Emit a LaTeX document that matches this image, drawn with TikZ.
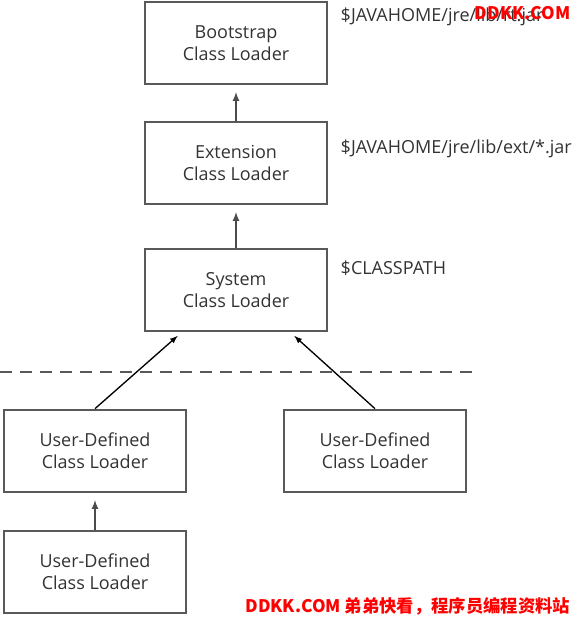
\documentclass[tikz,border=0pt]{standalone}
\usepackage{fontspec}
\setmainfont{Open Sans}
\newfontfamily\cjk{Noto Sans CJK SC}
\tikzset{
  loader/.style={draw=black!65, line width=1.5pt, minimum width=136pt, minimum height=62pt, align=center, text=black!80, font=\fontsize{13.5}{16.5}\selectfont},
  path/.style={anchor=base west, text=black!80, font=\fontsize{13.5}{15}\selectfont},
  mark red/.style={text=red, font=\cjk\bfseries\fontsize{13}{15}\selectfont}
}
\begin{document}
\begin{tikzpicture}[x=0.75pt,y=-0.75pt]
        \useasboundingbox (0,0) rectangle (577,617);
        \node[loader] at (236, 43)  (boot) {Bootstrap\\Class Loader};
        \node[loader] at (236,163)  (ext)  {Extension\\Class Loader};
        \node[loader] at (236,290)  (sys)  {System\\Class Loader};
        \node[loader] at ( 95,451)  (ud1)  {User-Defined\\Class Loader};
        \node[loader] at (375,451)  (ud2)  {User-Defined\\Class Loader};
        \node[loader] at ( 95,572)  (ud3)  {User-Defined\\Class Loader};
        \node[path] at (336, 22) (rt)  {\$JAVAHOME/jre/lib/rt.jar};
        \node[path] at (336,153) (jar) {\$JAVAHOME/jre/lib/ext/*.jar};
        \node[path] at (336,274) (cp)  {\$CLASSPATH};
        \coordinate (dl) at (0,372);
        \coordinate (dr) at (472,372);
        \draw[black!65, line width=0.8pt, dash pattern=on 9pt off 6pt] (dl) -- (dr);
        \draw[-latex, black!70, line width=1.3pt, shorten >=5pt] (ext) -- (boot);
        \draw[-latex, black!70, line width=1.3pt, shorten >=5pt] (sys) -- (ext);
        \draw[-latex, black!70, line width=1.3pt, shorten >=5pt] (ud3) -- (ud1);
        \draw[-latex, line width=1pt, shorten >=4pt] (ud1.north) -- ([xshift=28pt]sys.south west);
        \draw[-latex, line width=1pt, shorten >=4pt] (ud2.north) -- ([xshift=-28pt]sys.south east);
        \node[mark red, anchor=base east] at (575,20) (wm1) {DDKK.COM};
        \node[mark red, anchor=base east] at (575,612) (wm2) {DDKK.COM 弟弟快看，程序员编程资料站};
      \end{tikzpicture}
\end{document}
